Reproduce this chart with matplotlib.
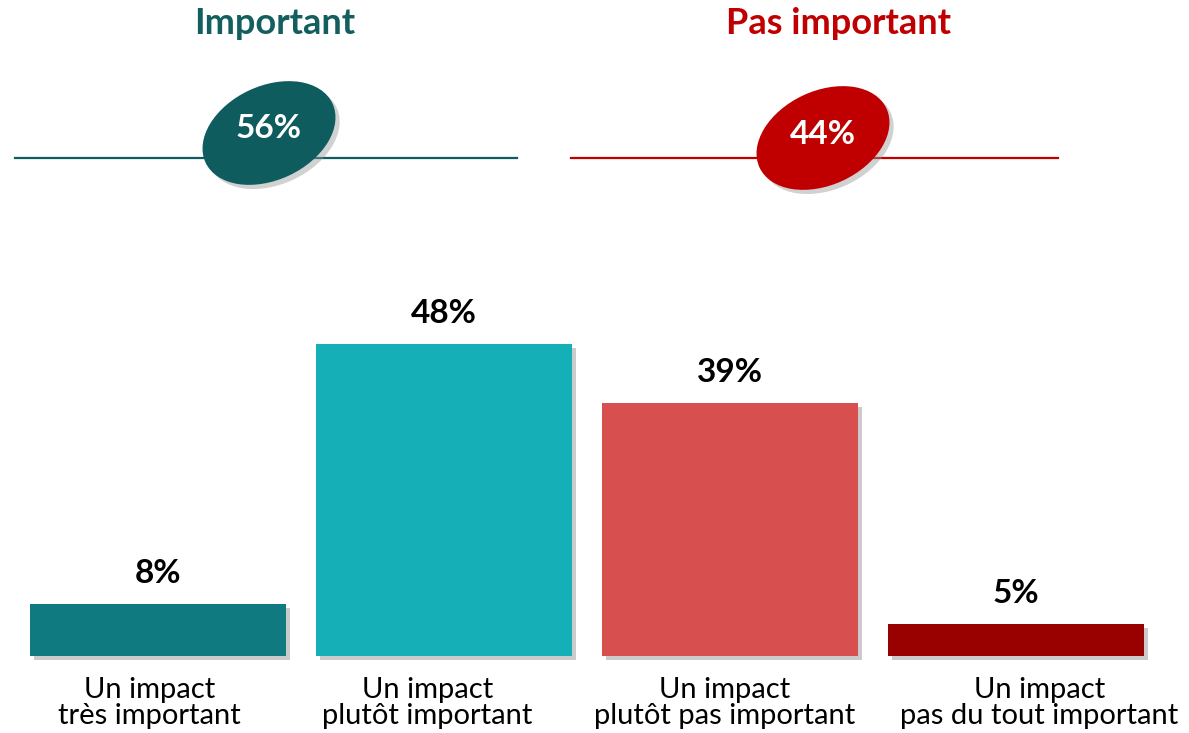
import matplotlib
matplotlib.use('Agg')
import matplotlib.pyplot as plt
import matplotlib.patches as mpatches
import matplotlib.patheffects as pe

plt.rcParams['font.family'] = ['Lato', 'DejaVu Sans']

# data
categories = ['Un impact\ntrès important', 'Un impact\nplutôt important',
              'Un impact\nplutôt pas important', 'Un impact\npas du tout important']
values = [8, 48, 39, 5]
bar_colors = ['#0F7A80', '#14AFB7', '#D84F50', '#990000']
groups = ['Important', 'Pas important']
group_values = [56, 44]
group_colors = ['#0E5C5E', '#C00000']
title_colors = ['#135E5E', '#C00000']

W, H = 1189, 733
fig = plt.figure(figsize=(W / 100, H / 100), dpi=100)

# bar axes, whole figure, one index unit = 286 px
ax = fig.add_axes([0, 0, 1, 1])
step = 286.0
x0 = 157.5
ax.set_xlim(-x0 / step, (W - x0) / step)
base = 77.0      # px from bottom
scale = 6.5      # px per percent
ax.set_ylim(-base / scale, (H - base) / scale)
ax.axis('off')

xs = list(range(len(values)))
bars = ax.bar(xs, values, width=256 / step, color=bar_colors, zorder=3)
for b in bars:
    b.set_path_effects([pe.SimplePatchShadow(offset=(3, -3), shadow_rgbFace='#999999', alpha=0.5), pe.Normal()])
for x, v in zip(xs, values):
    ax.text(x, v + 2.4, f'{v}%', ha='center', va='bottom', fontsize=24, fontweight='bold', color='black')

label_dx = [-8, -16, -5, 24]
for x, lab, dx in zip(xs, categories, label_dx):
    ax.text(x + dx / step, -3.3, lab, ha='center', va='top', fontsize=21, linespacing=0.98, color='black')

# top part in pixel coordinates
top = fig.add_axes([0, 0, 1, 1], facecolor='none')
top.set_xlim(0, W)
top.set_ylim(H, 0)
top.axis('off')

line_spans = [(15, 517), (571, 1058)]
ell_centers = [(269, 133), (823, 138)]
title_x = [275, 838]
for g, gv, gc, tc, span, c, tx in zip(groups, group_values, group_colors, title_colors,
                                      line_spans, ell_centers, title_x):
    top.plot(span, [158, 158], color=gc, lw=1.6, zorder=1)
    e = mpatches.Ellipse(c, 140, 94, angle=-25, facecolor=gc, edgecolor='none', zorder=2)
    e.set_path_effects([pe.SimplePatchShadow(offset=(3, -3), shadow_rgbFace='#999999', alpha=0.45), pe.Normal()])
    top.add_patch(e)
    top.text(c[0], c[1] - 4, f'{gv}%', ha='center', va='center', fontsize=24,
             fontweight='bold', color='white', zorder=3)
    top.text(tx, 24, g, ha='center', va='center', fontsize=26, fontweight='bold', color=tc)

fig.savefig('out.png', dpi=100)
